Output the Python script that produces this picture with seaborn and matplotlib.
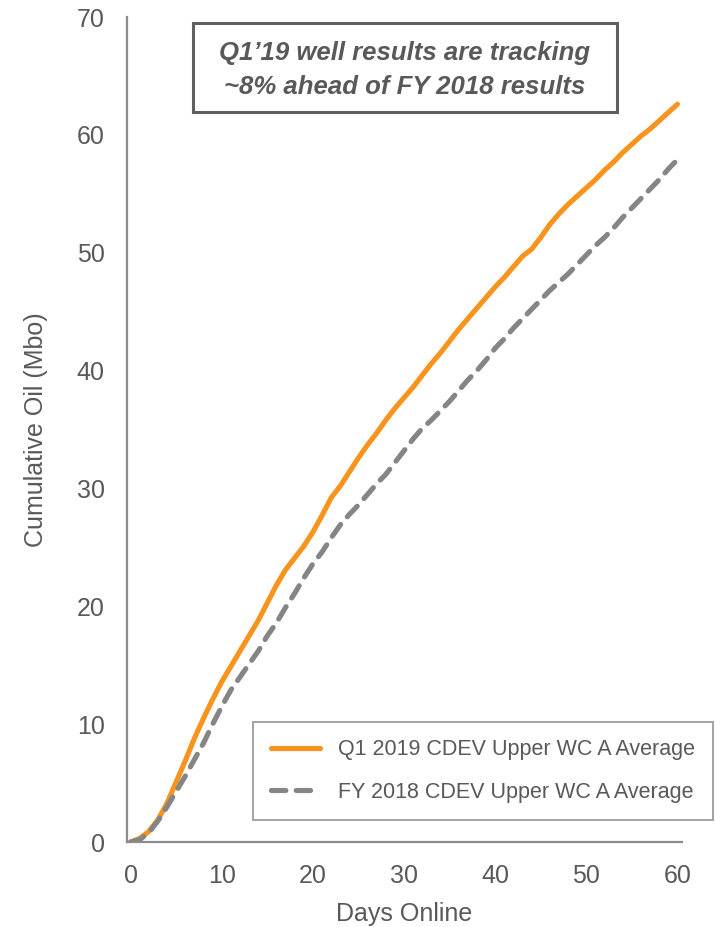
import numpy as np
import pandas as pd
import matplotlib
matplotlib.use("Agg")
import matplotlib.pyplot as plt
import seaborn as sns

# Cumulative oil per well (Mbo) by days online
days = list(range(0, 61))
q1_2019 = [0.0, 0.3, 0.9, 1.9, 3.3, 5.1, 6.9, 8.8, 10.5, 12.1,
           13.6, 14.9, 16.2, 17.5, 18.8, 20.3, 21.8, 23.1, 24.1, 25.1,
           26.3, 27.7, 29.2, 30.2, 31.4, 32.6, 33.7, 34.7, 35.8, 36.8,
           37.7, 38.6, 39.6, 40.6, 41.5, 42.5, 43.5, 44.4, 45.3, 46.2,
           47.1, 47.9, 48.8, 49.7, 50.3, 51.3, 52.4, 53.3, 54.1, 54.8,
           55.5, 56.2, 57.0, 57.7, 58.5, 59.2, 59.9, 60.5, 61.2, 61.9,
           62.6]
fy_2018 = [0.0, 0.2, 0.8, 1.8, 3.0, 4.3, 5.6, 7.0, 8.4, 10.0,
           11.5, 12.9, 14.0, 15.1, 16.2, 17.5, 18.6, 19.9, 21.1, 22.4,
           23.6, 24.6, 25.8, 26.9, 27.8, 28.6, 29.5, 30.4, 31.2, 32.2,
           33.2, 34.2, 35.1, 35.8, 36.6, 37.4, 38.3, 39.2, 40.0, 40.9,
           41.9, 42.7, 43.6, 44.4, 45.2, 46.0, 46.8, 47.5, 48.2, 49.0,
           49.8, 50.6, 51.3, 52.1, 53.0, 53.8, 54.6, 55.4, 56.2, 57.1,
           57.9]
series_names = ["Q1 2019 CDEV Upper WC A Average",
                "FY 2018 CDEV Upper WC A Average"]
x_ticks = [0, 10, 20, 30, 40, 50, 60]
y_ticks = [0, 10, 20, 30, 40, 50, 60, 70]
callout = "Q1\u201919 well results are tracking\n~8% ahead of FY 2018 results"

ORANGE = "#F7941D"
GREY = "#858585"
TEXT = "#595959"
SPINE = "#8C8C8C"

sns.set_theme(style="white")
plt.rcParams["font.family"] = ["Liberation Sans", "DejaVu Sans"]

df = pd.DataFrame({
    "Days Online": days * 2,
    "Cumulative Oil (Mbo)": q1_2019 + fy_2018,
    "series": [series_names[0]] * len(days) + [series_names[1]] * len(days),
})

fig = plt.figure(figsize=(7.15, 9.27), dpi=100)
ax = fig.add_axes([127 / 715, 85 / 927, 555 / 715, 825 / 927])

sns.lineplot(data=df, x="Days Online", y="Cumulative Oil (Mbo)",
             hue="series", style="series",
             palette={series_names[0]: ORANGE, series_names[1]: GREY},
             dashes={series_names[0]: "", series_names[1]: (2.8, 2.0)},
             linewidth=3.7, ax=ax, legend=True)

for line in ax.get_lines():
    line.set_dash_capstyle("round")
    line.set_solid_capstyle("round")

ax.set_xlim(-0.4, 60.5)
ax.set_ylim(0, 70)
ax.set_xticks(x_ticks)
ax.set_yticks(y_ticks)
ax.tick_params(axis="both", length=0, labelsize=18, labelcolor=TEXT)
ax.tick_params(axis="x", pad=16)
ax.tick_params(axis="y", pad=16)
ax.set_xlabel("Days Online", fontsize=18, color=TEXT, labelpad=10)
ax.set_ylabel("Cumulative Oil (Mbo)", fontsize=18, color=TEXT, labelpad=21)

for side in ["top", "right"]:
    ax.spines[side].set_visible(False)
for side in ["left", "bottom"]:
    ax.spines[side].set_color(SPINE)
    ax.spines[side].set_linewidth(1.6)

handles, labels = ax.get_legend_handles_labels()
for h in handles:
    h.set_dash_capstyle("round")
leg = ax.legend(handles, labels, loc="center",
                bbox_to_anchor=(483 / 715, 1 - 771 / 927),
                bbox_transform=fig.transFigure,
                fontsize=15.5, frameon=True, fancybox=False,
                handlelength=2.3, handletextpad=0.85, labelspacing=1.0,
                borderpad=0.8, borderaxespad=0)
leg.get_frame().set_edgecolor("#8C8C8C")
leg.get_frame().set_linewidth(1.4)
for t in leg.get_texts():
    t.set_color(TEXT)

# Callout box
box = plt.Rectangle((193 / 715, 1 - 112 / 927), (617 - 193) / 715, (112 - 23) / 927,
                    transform=fig.transFigure, facecolor="white",
                    edgecolor="#5F5F5F", linewidth=2.2, zorder=5)
fig.add_artist(box)
fig.text(405 / 715, 1 - 70 / 927, callout, ha="center", va="center",
         fontsize=18.5, fontweight="bold", fontstyle="italic", color=TEXT,
         linespacing=1.55, zorder=6)

fig.savefig("out.png", dpi=100)
